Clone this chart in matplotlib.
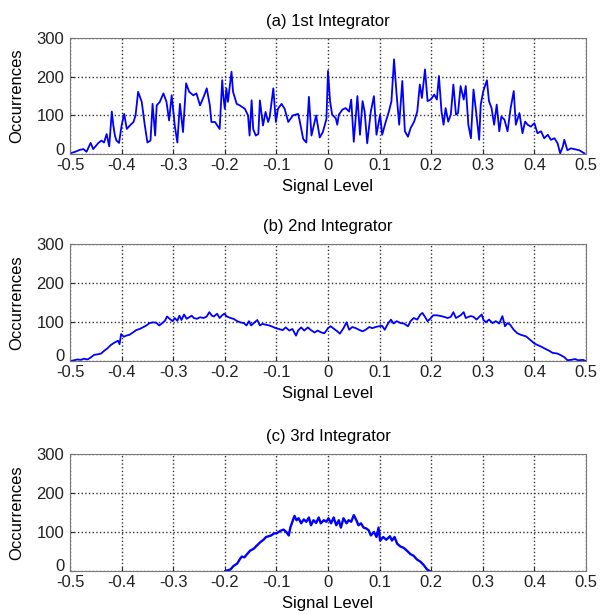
import matplotlib
matplotlib.use('Agg')
import matplotlib.pyplot as plt
from matplotlib.transforms import ScaledTranslation

plt.rcParams['font.family'] = ['Liberation Sans', 'DejaVu Sans']

# (a) 1st integrator histogram
x1 = [-0.500, -0.490, -0.481, -0.474, -0.468, -0.460, -0.455, -0.445, -0.439, -0.434,
      -0.429, -0.424, -0.419, -0.416, -0.413, -0.410, -0.405, -0.400, -0.395, -0.390,
      -0.384, -0.377, -0.373, -0.368, -0.361, -0.355, -0.350, -0.344, -0.340, -0.335,
      -0.332, -0.326, -0.319, -0.313, -0.308, -0.303, -0.297, -0.292, -0.287, -0.281,
      -0.275, -0.269, -0.261, -0.255, -0.248, -0.241, -0.235, -0.229, -0.226, -0.219,
      -0.210, -0.205, -0.203, -0.200, -0.197, -0.194, -0.187, -0.184, -0.177, -0.171,
      -0.161, -0.155, -0.152, -0.148, -0.145, -0.140, -0.135, -0.132, -0.126, -0.121,
      -0.116, -0.113, -0.106, -0.101, -0.097, -0.090, -0.084, -0.077, -0.068, -0.058,
      -0.055, -0.048, -0.042, -0.037, -0.032, -0.023, -0.016, -0.010, -0.003, 0.000,
      0.004, 0.008, 0.015, 0.018, 0.021, 0.028, 0.034, 0.041, 0.045, 0.050,
      0.057, 0.062, 0.067, 0.071, 0.076, 0.083, 0.089, 0.094, 0.101, 0.105,
      0.112, 0.118, 0.123, 0.128, 0.133, 0.138, 0.144, 0.149, 0.155, 0.160,
      0.167, 0.173, 0.178, 0.182, 0.188, 0.193, 0.199, 0.206, 0.211, 0.215,
      0.220, 0.224, 0.228, 0.233, 0.238, 0.243, 0.248, 0.252, 0.257, 0.263,
      0.267, 0.272, 0.277, 0.282, 0.287, 0.293, 0.296, 0.301, 0.308, 0.312,
      0.317, 0.322, 0.327, 0.332, 0.336, 0.342, 0.348, 0.354, 0.360, 0.364,
      0.371, 0.377, 0.382, 0.387, 0.393, 0.400, 0.406, 0.413, 0.419, 0.426,
      0.432, 0.439, 0.445, 0.450, 0.455, 0.458, 0.464, 0.471, 0.477, 0.487, 0.497]
y1 = [2, 6, 11, 13, 6, 29, 13, 29, 35, 30,
      52, 20, 110, 74, 48, 35, 29, 74, 104, 65,
      74, 83, 100, 161, 135, 74, 30, 35, 130, 48,
      126, 135, 157, 135, 87, 152, 74, 30, 130, 57,
      183, 161, 152, 157, 126, 148, 170, 126, 83, 83,
      65, 191, 152, 117, 170, 135, 213, 161, 130, 126,
      117, 100, 48, 139, 65, 48, 52, 139, 74, 109,
      83, 96, 170, 83, 117, 130, 117, 83, 100, 104,
      87, 39, 30, 148, 48, 100, 43, 57, 91, 215,
      137, 102, 93, 76, 102, 115, 119, 110, 141, 32,
      150, 50, 137, 110, 28, 110, 150, 50, 102, 50,
      84, 110, 137, 245, 154, 76, 189, 59, 45, 67,
      84, 110, 180, 145, 219, 137, 141, 154, 141, 202,
      110, 76, 119, 84, 102, 180, 102, 106, 176, 141,
      176, 76, 41, 167, 110, 37, 128, 163, 191, 137,
      119, 76, 128, 59, 97, 89, 59, 119, 163, 76,
      106, 54, 84, 76, 71, 80, 54, 59, 41, 50,
      37, 41, 28, 2, 19, 37, 10, 15, 13, 10, 2]

# (b) 2nd integrator
x2 = [-0.500, -0.492, -0.486, -0.479, -0.473, -0.466, -0.460, -0.453, -0.447, -0.440,
      -0.434, -0.427, -0.421, -0.414, -0.407, -0.404, -0.401, -0.396, -0.391, -0.385,
      -0.378, -0.372, -0.365, -0.359, -0.352, -0.346, -0.339, -0.333, -0.327, -0.323,
      -0.316, -0.312, -0.307, -0.301, -0.297, -0.292, -0.288, -0.284, -0.279, -0.274,
      -0.269, -0.264, -0.260, -0.254, -0.248, -0.241, -0.235, -0.230, -0.225, -0.221,
      -0.215, -0.210, -0.206, -0.201, -0.196, -0.189, -0.183, -0.176, -0.170, -0.163,
      -0.158, -0.153, -0.149, -0.144, -0.137, -0.132, -0.127, -0.121, -0.114, -0.108,
      -0.101, -0.095, -0.088, -0.082, -0.075, -0.069, -0.062, -0.058, -0.052, -0.046,
      -0.039, -0.033, -0.026, -0.020, -0.013, -0.007, 0.000,
      0.005, 0.012, 0.018, 0.023, 0.030, 0.036, 0.041, 0.047, 0.054, 0.060,
      0.067, 0.073, 0.080, 0.086, 0.092, 0.099, 0.105, 0.110, 0.115, 0.122,
      0.127, 0.133, 0.141, 0.147, 0.155, 0.160, 0.166, 0.173, 0.179, 0.183,
      0.188, 0.193, 0.198, 0.204, 0.211, 0.219, 0.225, 0.232, 0.238, 0.243,
      0.248, 0.252, 0.257, 0.263, 0.267, 0.272, 0.277, 0.282, 0.288, 0.293,
      0.298, 0.301, 0.306, 0.312, 0.319, 0.325, 0.332, 0.338, 0.343, 0.348,
      0.353, 0.360, 0.367, 0.374, 0.384, 0.392, 0.400, 0.406, 0.413, 0.420,
      0.429, 0.435, 0.445, 0.451, 0.458, 0.464, 0.471, 0.479, 0.485, 0.494, 0.500]
y2 = [0, 2, 4, 3, 6, 4, 9, 16, 17, 19,
      26, 33, 41, 47, 52, 43, 69, 62, 65, 67,
      73, 79, 82, 86, 91, 97, 99, 98, 91, 95,
      103, 114, 108, 102, 110, 103, 116, 105, 119, 108,
      112, 116, 110, 108, 112, 110, 114, 125, 116, 114,
      121, 110, 116, 121, 114, 110, 108, 102, 99, 97,
      91, 102, 91, 97, 105, 91, 95, 93, 91, 88,
      84, 82, 79, 86, 78, 82, 65, 78, 86, 78,
      86, 79, 73, 78, 73, 71, 84,
      89, 82, 76, 70, 84, 99, 80, 87, 84, 80,
      76, 80, 87, 84, 87, 89, 90, 80, 93, 106,
      96, 102, 97, 96, 89, 102, 110, 106, 119, 123,
      113, 102, 108, 117, 117, 115, 113, 110, 113, 125,
      110, 113, 117, 125, 110, 113, 115, 113, 106, 113,
      119, 106, 99, 106, 97, 102, 96, 115, 89, 97,
      93, 80, 71, 67, 63, 54, 45, 41, 37, 32,
      26, 21, 19, 15, 10, 2, 3, 5, 2, 3, 0]

# (c) 3rd integrator
x3 = [-0.199, -0.189, -0.183, -0.176, -0.171, -0.167, -0.162, -0.157, -0.151, -0.144,
      -0.138, -0.131, -0.125, -0.120, -0.115, -0.110, -0.105, -0.099, -0.092, -0.086,
      -0.081, -0.076, -0.073, -0.068, -0.065, -0.061, -0.057, -0.052, -0.047, -0.042,
      -0.037, -0.033, -0.028, -0.023, -0.018, -0.014, -0.008, -0.003, 0.001, 0.006,
      0.011, 0.016, 0.021, 0.025, 0.030, 0.036, 0.040, 0.045, 0.050, 0.055,
      0.059, 0.064, 0.069, 0.074, 0.079, 0.083, 0.089, 0.094, 0.098, 0.101,
      0.107, 0.113, 0.120, 0.124, 0.129, 0.134, 0.140, 0.147, 0.153, 0.160,
      0.166, 0.172, 0.179, 0.185, 0.192, 0.197]
y3 = [0, 4, 13, 19, 30, 37, 35, 43, 52, 57,
      65, 74, 80, 87, 89, 91, 96, 97, 103, 106,
      100, 91, 111, 130, 141, 130, 135, 122, 132, 126,
      137, 117, 130, 123, 137, 122, 130, 126, 135, 122,
      137, 117, 130, 111, 135, 122, 130, 126, 143, 130,
      117, 122, 111, 109, 104, 91, 100, 87, 111, 78,
      87, 80, 89, 78, 87, 70, 63, 59, 52, 43,
      39, 30, 24, 16, 4, 0]

titles = ['(a) 1st Integrator', '(b) 2nd Integrator', '(c) 3rd Integrator']
xticks = [-0.5, -0.4, -0.3, -0.2, -0.1, 0, 0.1, 0.2, 0.3, 0.4, 0.5]
xticklabels = ['-0.5', '-0.4', '-0.3', '-0.2', '-0.1', '0', '0.1', '0.2', '0.3', '0.4', '0.5']
yticks = [0, 100, 200, 300]

fig = plt.figure(figsize=(6.01, 6.14), dpi=100)
# axes boxes in figure fractions: [left, bottom, width, height]
boxes = [[0.1165, 0.749, 0.8585, 0.189],
         [0.1165, 0.412, 0.8585, 0.191],
         [0.1165, 0.070, 0.8585, 0.191]]
series = [(x1, y1, 1.3), (x2, y2, 1.3), (x3, y3, 1.7)]

for box, (xs, ys, lw), title in zip(boxes, series, titles):
    ax = fig.add_axes(box)
    ax.plot(xs, ys, color='#0000ff', linewidth=lw)
    ax.set_xlim(-0.5, 0.5)
    ax.set_ylim(0, 300)
    ax.set_xticks(xticks)
    ax.set_xticklabels(xticklabels)
    ax.set_yticks(yticks)
    ax.grid(True, linestyle=':', color='#333333', linewidth=1.0)
    ax.tick_params(labelsize=12, direction='in', length=3, colors='#222222')
    ax.tick_params(axis='x', pad=3)
    ax.tick_params(axis='y', pad=4)
    # nudge the "0" label up a little so it clears the "-0.5" below it
    lab0 = ax.get_yticklabels()[0]
    lab0.set_transform(lab0.get_transform() + ScaledTranslation(0, 4 / 72, fig.dpi_scale_trans))
    for s in ax.spines.values():
        s.set_color('#777777')
    ax.set_title(title, fontsize=12, pad=9)
    ax.set_xlabel('Signal Level', fontsize=12, labelpad=4)
    ax.set_ylabel('Occurrences', fontsize=12, labelpad=9)

fig.savefig('out.png', dpi=100)
